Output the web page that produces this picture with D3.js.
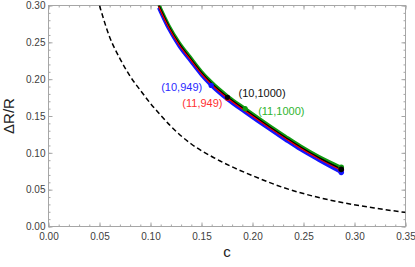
<!DOCTYPE html>
<html>
<head>
<meta charset="utf-8">
<script src="https://cdn.jsdelivr.net/npm/d3@7"></script>
<style>
  html, body { margin: 0; padding: 0; background: #fff; }
  svg text { font-family: "Liberation Sans", Arial, sans-serif; }
</style>
</head>
<body>
<svg id="chart" width="415" height="267"></svg>
<script>
// ---- Data ----
const xMajorTicks = [0, 0.05, 0.10, 0.15, 0.20, 0.25, 0.30, 0.35];
const yMajorTicks = [0, 0.05, 0.10, 0.15, 0.20, 0.25, 0.30];

// dashed reference curve
const dashedC = [0.050, 0.060, 0.070, 0.080, 0.090, 0.100, 0.110, 0.120, 0.140, 0.160, 0.180, 0.200, 0.230, 0.260, 0.290, 0.320, 0.350];
const dashedY = [0.300, 0.257, 0.228, 0.204, 0.185, 0.167, 0.151, 0.136, 0.112, 0.095, 0.081, 0.069, 0.053, 0.041, 0.032, 0.025, 0.019];

// the four nearly overlapping curves
const curveC = [0.108, 0.118, 0.128, 0.139, 0.150, 0.1595, 0.1755, 0.1928, 0.205, 0.2173, 0.232, 0.247, 0.265, 0.287];
const blueY  = [0.2970, 0.2680, 0.2450, 0.2250, 0.2055, 0.1915, 0.1723, 0.1550, 0.1431, 0.1314, 0.1178, 0.1043, 0.0900, 0.0735];
const redY   = [0.2988, 0.2698, 0.2468, 0.2268, 0.2073, 0.1933, 0.1741, 0.1568, 0.1449, 0.1332, 0.1196, 0.1061, 0.0918, 0.0762];
const blackY = [0.3000, 0.2710, 0.2480, 0.2280, 0.2085, 0.1945, 0.1753, 0.1580, 0.1461, 0.1344, 0.1208, 0.1073, 0.0930, 0.0776];
const greenY = [0.3020, 0.2730, 0.2500, 0.2300, 0.2105, 0.1965, 0.1773, 0.1600, 0.1481, 0.1364, 0.1228, 0.1093, 0.0950, 0.0802];

// marked points and their labels
const markLabels = ["(10,949)", "(11,949)", "(10,1000)", "(11,1000)"];
const markC = [0.1595, 0.1755, 0.1755, 0.1928];
const markY = [0.1915, 0.1741, 0.1753, 0.1600];
const endC = 0.287;

// ---- Layout ----
const svg = d3.select("#chart");
const x = d3.scaleLinear().domain([0, 0.35]).range([48.5, 405.5]);
const y = d3.scaleLinear().domain([0, 0.30]).range([226.5, 5.5]);
const frameColor = "#a6a6a6";
const labelColor = "#404040";

// drawing order: blue under, green, black, thin red on top
const series = [
  { name: "blue",  ys: blueY,  color: "#1414ff", width: 3.4 },
  { name: "green", ys: greenY, color: "#0f9a0f", width: 3.2 },
  { name: "black", ys: blackY, color: "#000000", width: 2 },
  { name: "red",   ys: redY,   color: "#ff0000", width: 1.1 }
];

// ---- Axes (frame with inward ticks) ----
const minorX = d3.range(0, 0.3501, 0.01);
const minorY = d3.range(0, 0.3001, 0.01);
const fmt = d3.format(".2f");

function styleAxis(g) {
  g.select(".domain").remove();
  g.selectAll("line").attr("stroke", frameColor);
  g.selectAll("text").attr("fill", labelColor).attr("font-size", 10);
}

svg.append("g").attr("transform", "translate(0,226.5)")
  .call(d3.axisBottom(x).tickValues(minorX).tickSize(-2).tickFormat("")).call(styleAxis);
svg.append("g").attr("transform", "translate(0,226.5)")
  .call(d3.axisBottom(x).tickValues(xMajorTicks).tickSize(-4).tickPadding(6).tickFormat(fmt)).call(styleAxis);
svg.append("g").attr("transform", "translate(0,5.5)")
  .call(d3.axisTop(x).tickValues(minorX).tickSize(-2).tickFormat("")).call(styleAxis);
svg.append("g").attr("transform", "translate(0,5.5)")
  .call(d3.axisTop(x).tickValues(xMajorTicks).tickSize(-4).tickFormat("")).call(styleAxis);

svg.append("g").attr("transform", "translate(48.5,0)")
  .call(d3.axisLeft(y).tickValues(minorY).tickSize(-2).tickFormat("")).call(styleAxis);
svg.append("g").attr("transform", "translate(48.5,0)")
  .call(d3.axisLeft(y).tickValues(yMajorTicks).tickSize(-4).tickPadding(3).tickFormat(fmt)).call(styleAxis);
svg.append("g").attr("transform", "translate(405.5,0)")
  .call(d3.axisRight(y).tickValues(minorY).tickSize(-2).tickFormat("")).call(styleAxis);
svg.append("g").attr("transform", "translate(405.5,0)")
  .call(d3.axisRight(y).tickValues(yMajorTicks).tickSize(-4).tickFormat("")).call(styleAxis);

svg.append("rect")
  .attr("x", 48.5).attr("y", 5.5)
  .attr("width", 357).attr("height", 221)
  .attr("fill", "none").attr("stroke", frameColor).attr("stroke-width", 1);

// axis titles
svg.append("text")
  .attr("x", 227).attr("y", 257)
  .attr("text-anchor", "middle").attr("font-size", 15).attr("fill", "#222")
  .text("c");
svg.append("text")
  .attr("transform", "translate(14,116) rotate(-90)")
  .attr("text-anchor", "middle").attr("font-size", 15).attr("fill", "#222")
  .text("ΔR/R");

// ---- Curves ----
svg.append("defs").append("clipPath").attr("id", "plot-clip")
  .append("rect").attr("x", 48.5).attr("y", 5.5).attr("width", 357).attr("height", 221);

const plot = svg.append("g").attr("clip-path", "url(#plot-clip)");

const line = d3.line()
  .x(d => x(d[0]))
  .y(d => y(d[1]))
  .curve(d3.curveMonotoneX);

plot.append("path")
  .attr("d", line(d3.zip(dashedC, dashedY)))
  .attr("fill", "none").attr("stroke", "#000")
  .attr("stroke-width", 1.5).attr("stroke-dasharray", "5,3");

series.forEach(s => {
  plot.append("path")
    .attr("d", line(d3.zip(curveC, s.ys)))
    .attr("fill", "none").attr("stroke", s.color)
    .attr("stroke-width", s.width);
});

// end points: red hidden underneath, black on top
["red", "blue", "green", "black"].forEach(name => {
  const s = series.find(d => d.name === name);
  svg.append("circle")
    .attr("cx", x(endC)).attr("cy", y(s.ys[s.ys.length - 1]))
    .attr("r", 2.8).attr("fill", s.color);
});

// marked points: order matches markLabels (blue, red, black, green)
const markColors = ["#1414ff", "#ff0000", "#000000", "#0f9a0f"];
const textColors = ["#2a2aff", "#ff3030", "#111111", "#2fb52f"];
const labelOffsets = [[-9, 5.5, "end"], [-5, 8.5, "end"], [11, 0, "start"], [13, 6.5, "start"]];

markC.forEach((c, i) => {
  svg.append("circle")
    .attr("cx", x(c)).attr("cy", y(markY[i]))
    .attr("r", 2.6).attr("fill", markColors[i]);
});

markC.forEach((c, i) => {
  svg.append("text")
    .attr("x", x(c) + labelOffsets[i][0])
    .attr("y", y(markY[i]) + labelOffsets[i][1])
    .attr("text-anchor", labelOffsets[i][2])
    .attr("font-size", 11)
    .attr("fill", textColors[i])
    .text(markLabels[i]);
});
</script>
</body>
</html>
